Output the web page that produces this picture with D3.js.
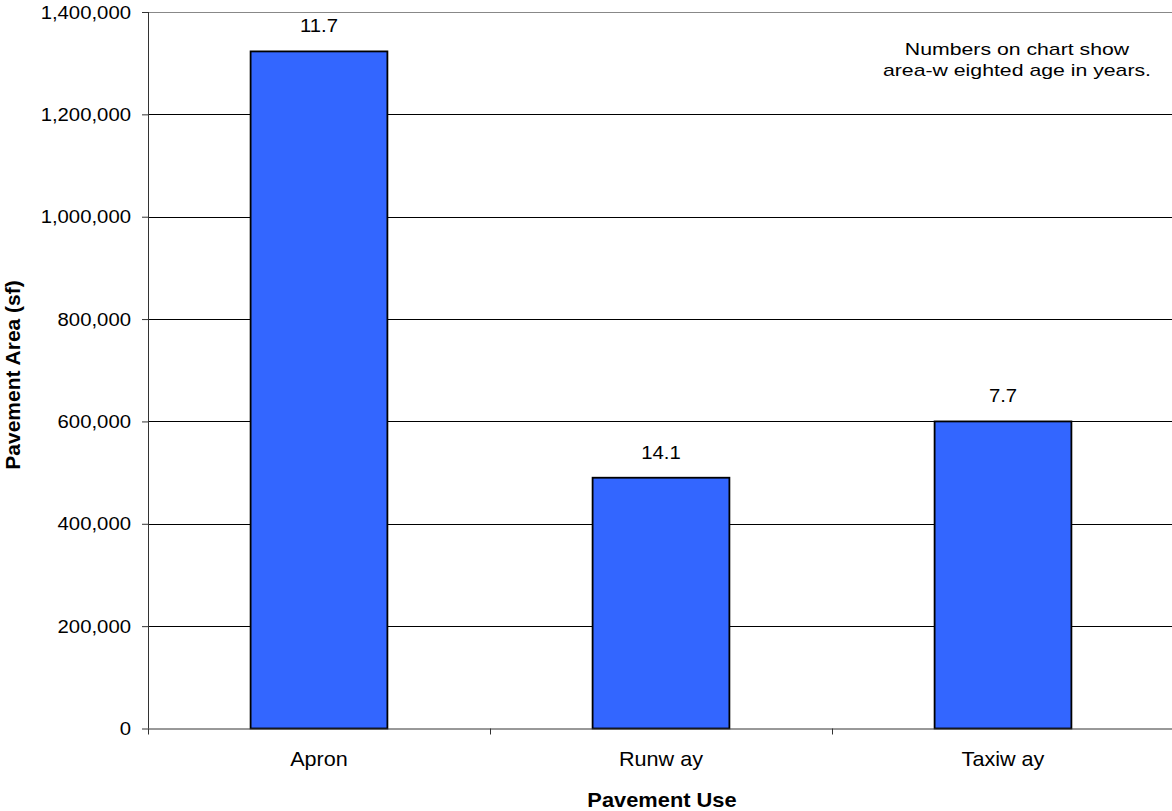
<!DOCTYPE html>
<html><head><meta charset="utf-8">
<script src="https://cdn.jsdelivr.net/npm/d3@7"></script>
<style>body{margin:0;background:#fff}svg{display:block;font-family:"Liberation Sans",Arial,sans-serif}</style>
</head><body><svg id="c" width="1172" height="811"></svg>
<script>
const categories = ["Apron", "Runw ay", "Taxiw ay"];
const areas = [1323000, 490000, 600000];
const ages = ["11.7", "14.1", "7.7"];
const yTicks = [0, 200000, 400000, 600000, 800000, 1000000, 1200000, 1400000];
const noteLines = ["Numbers on chart show", "area-w eighted age in years."];

const svg = d3.select("#c");
const m = {left: 148, top: 12, right: 1174, bottom: 728.5};
const x = d3.scaleBand().domain(categories).range([m.left, m.right]).paddingInner(0.6).paddingOuter(0.3);
const y = d3.scaleLinear().domain([0, 1400000]).range([m.bottom, m.top]);

// horizontally stretch text around its anchor
function stretch(sel, sx) {
  sel.each(function() {
    const t = d3.select(this);
    const tx = +t.attr("x") || 0;
    t.attr("x", tx / sx).attr("transform", `scale(${sx},1)`);
  });
}

// gridlines
svg.append("g").selectAll("line").data(yTicks.slice(1, -1)).join("line")
  .attr("x1", m.left).attr("x2", m.right)
  .attr("y1", d => Math.round(y(d)) + 0.5).attr("y2", d => Math.round(y(d)) + 0.5)
  .attr("stroke", "#000").attr("stroke-width", 1);
// top border
svg.append("line").attr("x1", m.left).attr("x2", m.right).attr("y1", m.top + 0.5).attr("y2", m.top + 0.5)
  .attr("stroke", "#888").attr("stroke-width", 1);

// bars
svg.append("g").selectAll("rect").data(categories).join("rect")
  .attr("x", d => x(d)).attr("width", x.bandwidth())
  .attr("y", (d, i) => y(areas[i])).attr("height", (d, i) => y(0) - y(areas[i]))
  .attr("fill", "#3366FF").attr("stroke", "#000").attr("stroke-width", 1.8);

// value labels
svg.append("g").selectAll("text").data(categories).join("text")
  .attr("x", d => x(d) + x.bandwidth() / 2).attr("y", (d, i) => y(areas[i]) - 19)
  .attr("text-anchor", "middle").attr("font-size", 19).attr("fill", "#000")
  .text((d, i) => ages[i])
  .call(stretch, 1.07);

// y axis
const yAxis = svg.append("g").attr("transform", `translate(${m.left},0)`)
  .call(d3.axisLeft(y).tickValues(yTicks).tickSize(6).tickPadding(11).tickFormat(d3.format(",")));
yAxis.select(".domain").attr("stroke", "#333").attr("d", `M0.5,${m.top}V${m.bottom}`);
yAxis.selectAll(".tick line").attr("stroke", "#333");
yAxis.selectAll("text").attr("font-size", 19).attr("fill", "#000")
  .attr("font-family", "Liberation Sans, Arial, sans-serif").call(stretch, 1.07);

// x axis
const xAxis = svg.append("g").attr("transform", `translate(0,${m.bottom})`)
  .call(d3.axisBottom(x).tickSize(0).tickPadding(0));
xAxis.select(".domain").attr("stroke", "#333").attr("d", `M${m.left},0.5H${m.right}`);
xAxis.selectAll("text").attr("font-size", 20).attr("fill", "#000").attr("dy", null).attr("y", 37.5)
  .attr("font-family", "Liberation Sans, Arial, sans-serif").call(stretch, 1.08);
// category boundary ticks
const bounds = d3.range(categories.length + 1).map(i => m.left + i * (m.right - m.left) / categories.length);
svg.append("g").selectAll("line").data(bounds).join("line")
  .attr("x1", d => Math.round(d) + 0.5).attr("x2", d => Math.round(d) + 0.5)
  .attr("y1", m.bottom).attr("y2", m.bottom + 6).attr("stroke", "#333");

// axis titles
svg.append("text").attr("x", 662).attr("y", 807.5)
  .attr("text-anchor", "middle").attr("font-size", 19.5).attr("font-weight", "bold").text("Pavement Use")
  .call(stretch, 1.12);
svg.append("text").attr("transform", `translate(19.5,375) rotate(-90)`)
  .attr("text-anchor", "middle").attr("font-size", 21).attr("font-weight", "bold").text("Pavement Area (sf)");

// note
svg.append("g").selectAll("text").data(noteLines).join("text")
  .attr("x", 1017).attr("y", (d, i) => 55 + i * 21)
  .attr("text-anchor", "middle").attr("font-size", 17).attr("fill", "#000").text(d => d)
  .call(stretch, 1.25);
</script></body></html>
